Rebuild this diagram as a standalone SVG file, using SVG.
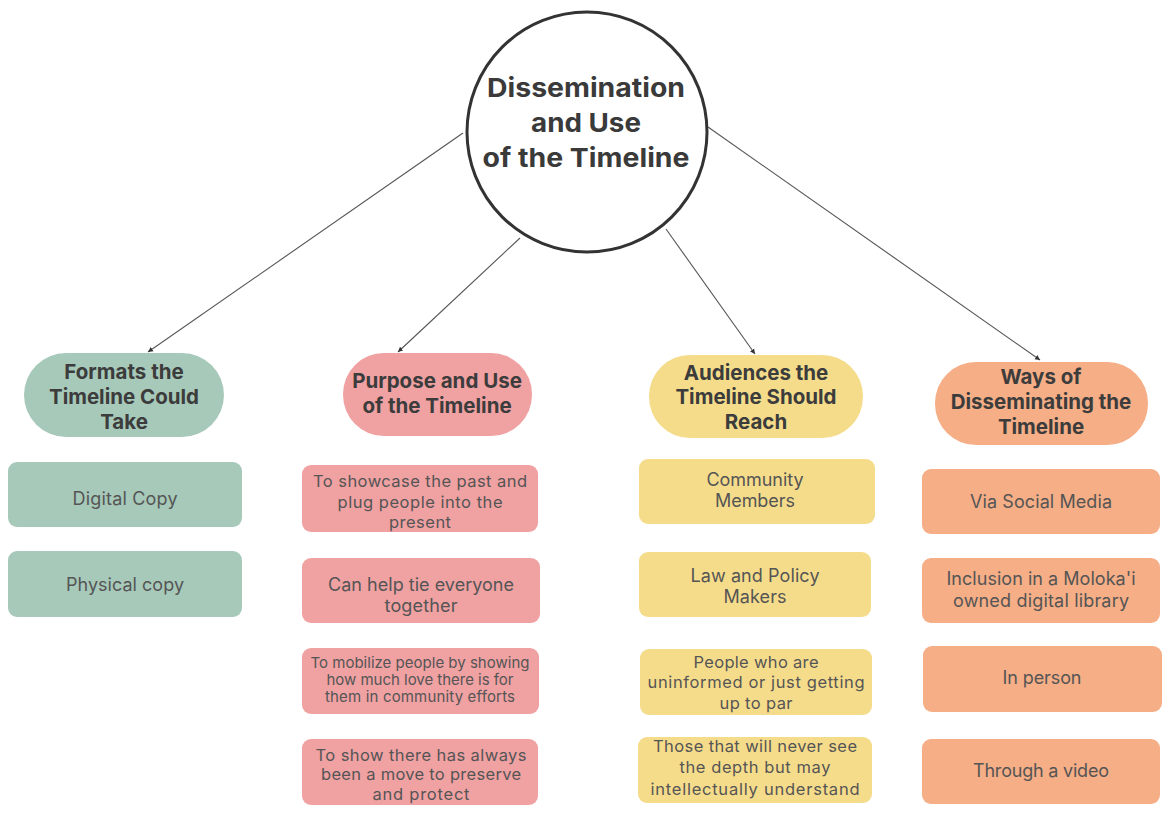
<svg xmlns="http://www.w3.org/2000/svg" width="1173" height="834" viewBox="0 0 1173 834">
<defs>
<marker id="ah" markerWidth="6" markerHeight="6" refX="5" refY="3" orient="auto" markerUnits="userSpaceOnUse">
<path d="M0,0.5 L5,3 L0,5.5 Z" fill="#333"/>
</marker>
<style>
.t{font-family:Inter,"Liberation Sans",sans-serif;text-anchor:middle}
.h{font-weight:700;font-size:20.5px;fill:#3c3c3c}
.c{font-weight:700;font-size:26px;fill:#3a3a3a}
.i{font-weight:400;font-size:18px;fill:#555}
.i15{font-weight:400;font-size:16.5px;fill:#555}
.i13{font-weight:400;font-size:15px;fill:#555}
.g{fill:#a7c9b9}
.p{fill:#f0a1a2}
.y{fill:#f5dc8b}
.o{fill:#f5ae86}
.conn line{stroke:#555;stroke-width:1.1;marker-end:url(#ah)}
</style>
</defs>
<rect width="1173" height="834" fill="#fff"/>
<g id="connectors" class="conn">
<line x1="463" y1="133" x2="148" y2="352"/>
<line x1="520" y1="238" x2="398" y2="352"/>
<line x1="666" y1="229" x2="755" y2="354"/>
<line x1="708" y1="127" x2="1040" y2="360"/>
</g>
<g id="center">
<circle cx="587" cy="132" r="120" fill="#fff" stroke="#333" stroke-width="3"/>
<text class="t c" x="586" y="97" textLength="198" lengthAdjust="spacingAndGlyphs">Dissemination</text>
<text class="t c" x="586" y="132" textLength="110" lengthAdjust="spacingAndGlyphs">and Use</text>
<text class="t c" x="586" y="167" textLength="207" lengthAdjust="spacingAndGlyphs">of the Timeline</text>
</g>
<g id="formats">
<rect class="g" x="24" y="353" width="200" height="84" rx="42"/>
<text class="t h" x="124" y="379">Formats the</text>
<text class="t h" x="124" y="404">Timeline Could</text>
<text class="t h" x="124" y="429">Take</text>
</g>
<g id="f1"><rect class="g" x="8" y="462" width="234" height="65" rx="9"/><text class="t i" x="125" y="505" textLength="105">Digital Copy</text></g>
<g id="f2"><rect class="g" x="8" y="551" width="234" height="66" rx="9"/><text class="t i" x="125" y="591" textLength="118">Physical copy</text></g>
<g id="purpose">
<rect class="p" x="343" y="353" width="189" height="83" rx="41"/>
<text class="t h" x="437" y="388">Purpose and Use</text>
<text class="t h" x="437" y="413">of the Timeline</text>
</g>
<g id="p1"><rect class="p" x="302" y="465" width="236" height="67" rx="9"/>
<text class="t i15" x="420" y="487" textLength="214">To showcase the past and</text>
<text class="t i15" x="420" y="508" textLength="165">plug people into the</text>
<text class="t i15" x="420" y="528" textLength="62">present</text></g>
<g id="p2"><rect class="p" x="302" y="558" width="238" height="65" rx="9"/>
<text class="t i" x="421" y="591" textLength="186">Can help tie everyone</text>
<text class="t i" x="421" y="612" textLength="73">together</text></g>
<g id="p3"><rect class="p" x="302" y="648" width="237" height="66" rx="9"/>
<text class="t i13" x="420" y="668" textLength="219">To mobilize people by showing</text>
<text class="t i13" x="420" y="685" textLength="187">how much love there is for</text>
<text class="t i13" x="420" y="702" textLength="190">them in community efforts</text></g>
<g id="p4"><rect class="p" x="302" y="739" width="236" height="66" rx="9"/>
<text class="t i15" x="421" y="761" textLength="211">To show there has always</text>
<text class="t i15" x="421" y="780" textLength="200">been a move to preserve</text>
<text class="t i15" x="421" y="800" textLength="97">and protect</text></g>
<g id="audiences">
<rect class="y" x="649" y="355" width="214" height="83" rx="41"/>
<text class="t h" x="756" y="380">Audiences the</text>
<text class="t h" x="756" y="404">Timeline Should</text>
<text class="t h" x="756" y="429">Reach</text>
</g>
<g id="a1"><rect class="y" x="639" y="459" width="236" height="65" rx="9"/>
<text class="t i" x="755" y="486" textLength="97">Community</text>
<text class="t i" x="755" y="507" textLength="80">Members</text></g>
<g id="a2"><rect class="y" x="639" y="552" width="232" height="65" rx="9"/>
<text class="t i" x="755" y="582" textLength="129">Law and Policy</text>
<text class="t i" x="755" y="603" textLength="63">Makers</text></g>
<g id="a3"><rect class="y" x="640" y="649" width="232" height="66" rx="9"/>
<text class="t i15" x="756" y="668" textLength="125">People who are</text>
<text class="t i15" x="756" y="688" textLength="217">uninformed or just getting</text>
<text class="t i15" x="756" y="709" textLength="73">up to par</text></g>
<g id="a4"><rect class="y" x="638" y="737" width="234" height="66" rx="9"/>
<text class="t i15" x="755" y="752" textLength="204">Those that will never see</text>
<text class="t i15" x="755" y="773" textLength="151">the depth but may</text>
<text class="t i15" x="755" y="795" textLength="209">intellectually understand</text></g>
<g id="ways">
<rect class="o" x="935" y="362" width="213" height="83" rx="41"/>
<text class="t h" x="1041" y="384">Ways of</text>
<text class="t h" x="1041" y="409">Disseminating the</text>
<text class="t h" x="1041" y="434">Timeline</text>
</g>
<g id="w1"><rect class="o" x="922" y="469" width="238" height="65" rx="9"/>
<text class="t i" x="1041" y="508" textLength="142">Via Social Media</text></g>
<g id="w2"><rect class="o" x="922" y="558" width="238" height="65" rx="9"/>
<text class="t i" x="1041" y="585" textLength="189">Inclusion in a Moloka'i</text>
<text class="t i" x="1041" y="607" textLength="176">owned digital library</text></g>
<g id="w3"><rect class="o" x="923" y="646" width="239" height="66" rx="9"/>
<text class="t i" x="1042" y="684" textLength="79">In person</text></g>
<g id="w4"><rect class="o" x="922" y="739" width="238" height="65" rx="9"/>
<text class="t i" x="1041" y="777" textLength="136">Through a video</text></g>
</svg>
